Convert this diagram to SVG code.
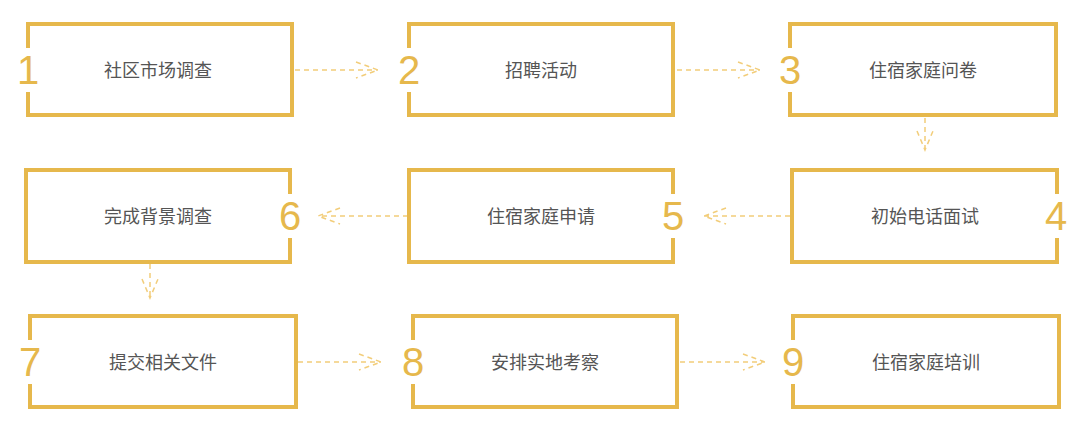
<svg xmlns="http://www.w3.org/2000/svg" width="1080" height="436" viewBox="0 0 1080 436">
<style>
.b{fill:none;stroke:#E6B84C;stroke-width:4}
.g{fill:#fff}
.n{font-family:"Liberation Sans",Arial,sans-serif;font-size:40px;fill:#E6B84C;text-anchor:middle}
.t{font-family:"Noto Sans CJK SC",sans-serif;font-size:18px;fill:#555;text-anchor:middle}
.c{fill:none;stroke:#F2CD7A;stroke-width:1.5;stroke-dasharray:5 4}
</style>
<rect width="1080" height="436" fill="#fff"/>
<g id="connectors">
<path class="c" d="M295 70H378M356 62L378 70L356 78"/>
<path class="c" d="M677 70H760M738 62L760 70L738 78"/>
<path class="c" d="M925 118V150M917 131L925 150L933 131"/>
<path class="c" d="M790 216H704M726 208L704 216L726 224"/>
<path class="c" d="M408 216H318M340 208L318 216L340 224"/>
<path class="c" d="M150 264V298M142 279L150 298L158 279"/>
<path class="c" d="M298 362H381M359 354L381 362L359 370"/>
<path class="c" d="M680 362H765M743 354L765 362L743 370"/>
</g>
<g id="n1"><rect class="b" x="28" y="24" width="264" height="91"/><rect class="g" x="20" y="48" width="16" height="44"/><text class="n" x="28" y="84">1</text><text class="t" x="158" y="77">社区市场调查</text></g>
<g id="n2"><rect class="b" x="409" y="24" width="264" height="91"/><rect class="g" x="401" y="48" width="16" height="44"/><text class="n" x="409" y="84">2</text><text class="t" x="541" y="77">招聘活动</text></g>
<g id="n3"><rect class="b" x="790" y="24" width="266" height="91"/><rect class="g" x="782" y="48" width="16" height="44"/><text class="n" x="790" y="84">3</text><text class="t" x="923" y="77">住宿家庭问卷</text></g>
<g id="n4"><rect class="b" x="792" y="170" width="265" height="92"/><rect class="g" x="1049" y="194" width="16" height="44"/><text class="n" x="1056" y="230">4</text><text class="t" x="925" y="223">初始电话面试</text></g>
<g id="n5"><rect class="b" x="409" y="170" width="264" height="92"/><rect class="g" x="665" y="194" width="16" height="44"/><text class="n" x="673" y="230">5</text><text class="t" x="541" y="223">住宿家庭申请</text></g>
<g id="n6"><rect class="b" x="26" y="170" width="264" height="92"/><rect class="g" x="282" y="194" width="16" height="44"/><text class="n" x="290" y="230">6</text><text class="t" x="158" y="223">完成背景调查</text></g>
<g id="n7"><rect class="b" x="30" y="316" width="266" height="91"/><rect class="g" x="22" y="340" width="16" height="44"/><text class="n" x="30" y="376">7</text><text class="t" x="163" y="369">提交相关文件</text></g>
<g id="n8"><rect class="b" x="413" y="316" width="264" height="91"/><rect class="g" x="405" y="340" width="16" height="44"/><text class="n" x="413" y="376">8</text><text class="t" x="545" y="369">安排实地考察</text></g>
<g id="n9"><rect class="b" x="793" y="316" width="266" height="91"/><rect class="g" x="785" y="340" width="16" height="44"/><text class="n" x="793" y="376">9</text><text class="t" x="926" y="369">住宿家庭培训</text></g>
</svg>
